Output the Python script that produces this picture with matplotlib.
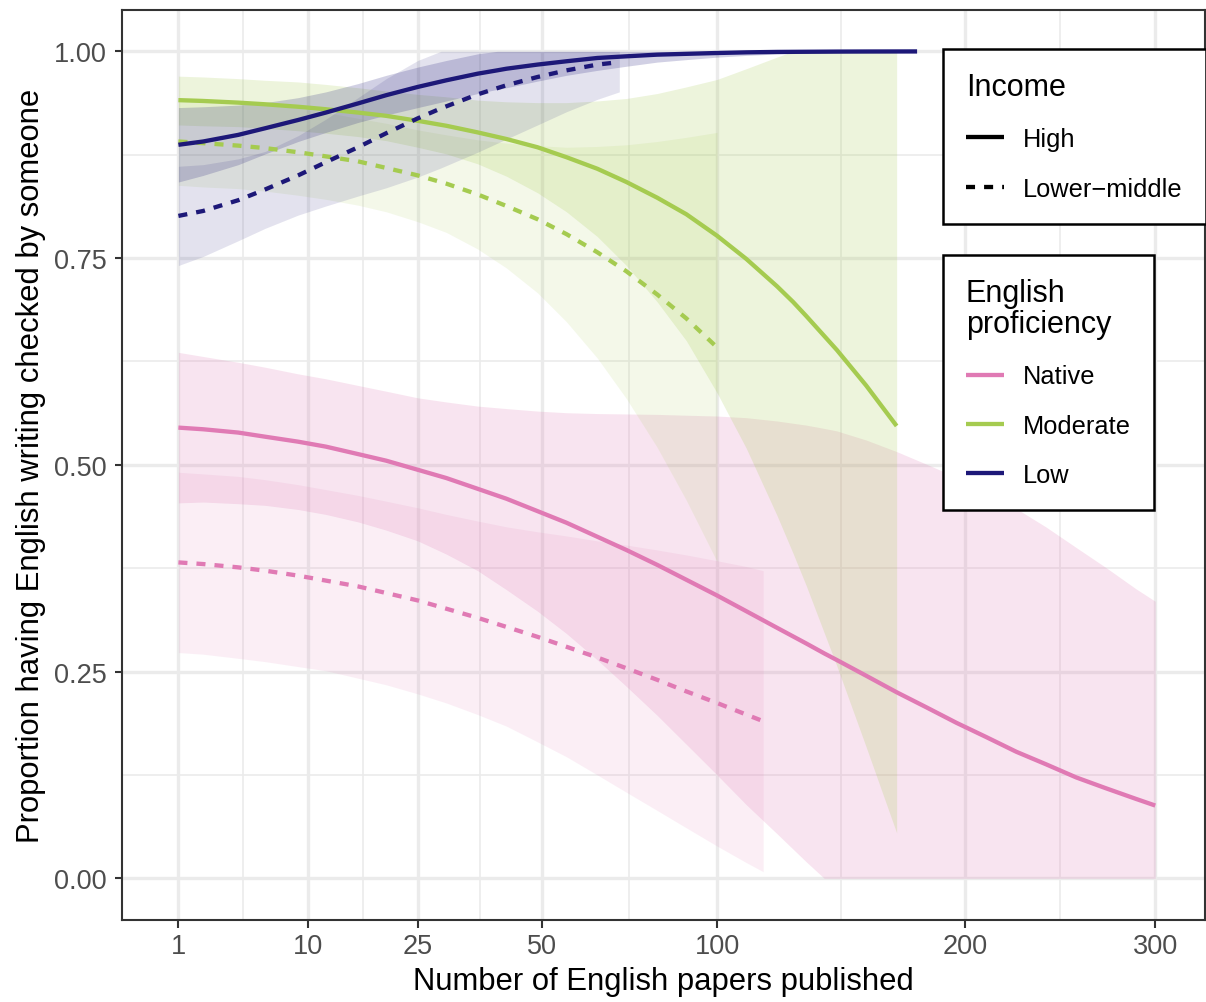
import matplotlib.pyplot as plt
import numpy as np
from matplotlib.lines import Line2D
from matplotlib.ticker import FixedLocator

plt.rcParams['font.family'] = ['Liberation Sans', 'DejaVu Sans']

# Fitted proportion + 95% band, per proficiency x income group
native_high_x = [1, 2, 4, 6, 9, 12, 16, 20, 25, 30, 36, 42, 49, 56, 64, 72, 81, 90, 100, 110,
                 121, 132, 139, 144, 156, 169, 182, 196, 210, 225, 240, 256, 272, 289, 300]
native_high_fit = [0.545, 0.543, 0.539, 0.534, 0.528, 0.522, 0.513, 0.505, 0.494, 0.484,
                   0.471, 0.459, 0.444, 0.430, 0.413, 0.397, 0.379, 0.361, 0.342, 0.323,
                   0.303, 0.284, 0.272, 0.264, 0.245, 0.225, 0.207, 0.188, 0.171, 0.153,
                   0.138, 0.122, 0.109, 0.096, 0.088]
native_high_lo = [0.454, 0.455, 0.453, 0.451, 0.446, 0.440, 0.431, 0.421, 0.408, 0.392,
                  0.372, 0.349, 0.323, 0.296, 0.264, 0.232, 0.197, 0.162, 0.125, 0.089,
                  0.054, 0.020, 0.0, 0.0, 0.0, 0.0, 0.0, 0.0, 0.0, 0.0,
                  0.0, 0.0, 0.0, 0.0, 0.0]
native_high_hi = [0.636, 0.631, 0.624, 0.618, 0.610, 0.604, 0.596, 0.589, 0.581, 0.576,
                  0.571, 0.568, 0.565, 0.563, 0.562, 0.5615, 0.561, 0.560, 0.559, 0.557,
                  0.553, 0.548, 0.544, 0.541, 0.530, 0.516, 0.501, 0.485, 0.467, 0.447,
                  0.425, 0.400, 0.376, 0.350, 0.335]

native_lm_x = [1, 2, 4, 6, 9, 12, 16, 20, 25, 30, 36, 42, 49, 56, 64, 72, 81, 90, 100, 110, 116]
native_lm_fit = [0.382, 0.380, 0.376, 0.372, 0.366, 0.360, 0.353, 0.345, 0.336, 0.326, 0.315,
                 0.304, 0.292, 0.280, 0.267, 0.254, 0.240, 0.226, 0.212, 0.198, 0.190]
native_lm_lo = [0.273, 0.271, 0.266, 0.262, 0.256, 0.251, 0.242, 0.234, 0.223, 0.212, 0.198,
                0.184, 0.165, 0.147, 0.125, 0.104, 0.082, 0.061, 0.039, 0.019, 0.008]
native_lm_hi = [0.491, 0.489, 0.486, 0.482, 0.476, 0.470, 0.463, 0.456, 0.448, 0.440, 0.432,
                0.425, 0.419, 0.414, 0.408, 0.403, 0.397, 0.391, 0.384, 0.377, 0.372]

moderate_high_x = [1, 2, 4, 6, 9, 12, 16, 20, 25, 30, 36, 42, 49, 56, 64, 72, 81, 90, 100, 110,
                   121, 127, 132, 144, 156, 169]
moderate_high_fit = [0.941, 0.940, 0.938, 0.936, 0.933, 0.930, 0.926, 0.922, 0.916, 0.910,
                     0.902, 0.894, 0.884, 0.872, 0.858, 0.842, 0.823, 0.803, 0.777, 0.749,
                     0.716, 0.697, 0.680, 0.639, 0.596, 0.547]
moderate_high_lo = [0.911, 0.910, 0.909, 0.907, 0.904, 0.901, 0.897, 0.892, 0.884, 0.876,
                    0.864, 0.849, 0.829, 0.806, 0.776, 0.741, 0.697, 0.650, 0.587, 0.520,
                    0.439, 0.393, 0.354, 0.257, 0.159, 0.055]
moderate_high_hi = [0.970, 0.969, 0.967, 0.965, 0.963, 0.960, 0.956, 0.952, 0.948, 0.945,
                    0.941, 0.939, 0.938, 0.938, 0.940, 0.943, 0.949, 0.957, 0.966, 0.979,
                    0.993, 1.0, 1.0, 1.0, 1.0, 1.0]

moderate_lm_x = [1, 2, 4, 6, 9, 12, 16, 20, 25, 30, 36, 42, 49, 56, 64, 72, 81, 90, 100]
moderate_lm_fit = [0.891, 0.889, 0.886, 0.883, 0.878, 0.873, 0.867, 0.859, 0.850, 0.840,
                   0.827, 0.813, 0.797, 0.779, 0.757, 0.734, 0.706, 0.677, 0.642]
moderate_lm_lo = [0.838, 0.836, 0.834, 0.831, 0.826, 0.821, 0.814, 0.806, 0.794, 0.781,
                  0.761, 0.738, 0.708, 0.673, 0.629, 0.580, 0.521, 0.457, 0.383]
moderate_lm_hi = [0.944, 0.943, 0.939, 0.936, 0.931, 0.926, 0.919, 0.913, 0.905, 0.899,
                  0.893, 0.889, 0.886, 0.884, 0.885, 0.887, 0.891, 0.896, 0.902]

low_high_x = [1, 2, 4, 6, 9, 12, 16, 20, 25, 30, 36, 40, 42, 49, 56, 64, 72, 81, 90, 100,
              110, 121, 132, 144, 156, 178]
low_high_fit = [0.887, 0.891, 0.899, 0.907, 0.917, 0.926, 0.937, 0.947, 0.957, 0.965,
                0.973, 0.977, 0.979, 0.984, 0.988, 0.992, 0.994, 0.996, 0.997, 0.998,
                0.9988, 0.9993, 0.9995, 0.9997, 0.9998, 0.9999]
low_high_lo = [0.842, 0.850, 0.863, 0.876, 0.891, 0.902, 0.914, 0.923, 0.932, 0.940,
               0.949, 0.954, 0.956, 0.964, 0.971, 0.977, 0.982, 0.987, 0.990, 0.993,
               0.9951, 0.9968, 0.9978, 0.9984, 0.9991, 0.9996]
low_high_hi = [0.932, 0.933, 0.935, 0.938, 0.944, 0.951, 0.961, 0.971, 0.981, 0.989,
               0.997, 1.0, 1.0, 1.0, 1.0, 1.0, 1.0, 1.0, 1.0, 1.0,
               1.0, 1.0, 1.0, 1.0, 1.0, 1.0]

low_lm_x = [1, 2, 4, 6, 9, 12, 16, 20, 25, 29, 36, 42, 49, 56, 64, 70]
low_lm_fit = [0.801, 0.807, 0.820, 0.833, 0.850, 0.866, 0.884, 0.901, 0.919, 0.931,
              0.948, 0.959, 0.969, 0.977, 0.984, 0.987]
low_lm_lo = [0.741, 0.752, 0.771, 0.786, 0.802, 0.813, 0.825, 0.835, 0.848, 0.859,
             0.878, 0.894, 0.911, 0.927, 0.942, 0.951]
low_lm_hi = [0.861, 0.863, 0.870, 0.879, 0.898, 0.918, 0.944, 0.967, 0.989, 1.0,
             1.0, 1.0, 1.0, 1.0, 1.0, 1.0]

proficiency = ['Native', 'Moderate', 'Low']
income = ['High', 'Lower\u2212middle']
x_breaks = [1, 10, 25, 50, 100, 200, 300]
y_breaks = [0.0, 0.25, 0.50, 0.75, 1.0]

PINK = '#E07AB4'
GREEN = '#A5CB50'
NAVY = '#1D1878'
LW = 3.1
DASHED = (0, (2.1, 2.1))

groups = [
    (native_high_x, native_high_fit, native_high_lo, native_high_hi, PINK, 'High'),
    (native_lm_x, native_lm_fit, native_lm_lo, native_lm_hi, PINK, 'Lower-middle'),
    (moderate_high_x, moderate_high_fit, moderate_high_lo, moderate_high_hi, GREEN, 'High'),
    (moderate_lm_x, moderate_lm_fit, moderate_lm_lo, moderate_lm_hi, GREEN, 'Lower-middle'),
    (low_high_x, low_high_fit, low_high_lo, low_high_hi, NAVY, 'High'),
    (low_lm_x, low_lm_fit, low_lm_lo, low_lm_hi, NAVY, 'Lower-middle'),
]

fig = plt.figure(figsize=(12.06, 10.03), dpi=100)
ax = fig.add_axes([0.10075, 0.0821, 0.89801, 0.90693])

# square-root x axis
ax.set_xscale('function', functions=(lambda v: np.sqrt(np.clip(v, 0, None)), lambda v: np.square(v)))
ax.set_xlim(0.00243, 329.2)
ax.set_ylim(-0.05, 1.05)

# bands first, then the fitted lines on top
for x, fit, lo, hi, col, inc in groups:
    a = 0.2 if inc == 'High' else 0.12
    ax.fill_between(x, lo, hi, color=col, alpha=a, lw=0, zorder=2)
for x, fit, lo, hi, col, inc in groups:
    ls = '-' if inc == 'High' else DASHED
    ax.plot(x, fit, color=col, lw=LW, ls=ls, solid_capstyle='butt', dash_capstyle='butt',
            solid_joinstyle='round', zorder=3)

# ticks and grid
ax.xaxis.set_major_locator(FixedLocator(x_breaks))
ax.set_xticklabels([str(b) for b in x_breaks])
sq = np.sqrt(x_breaks)
ax.xaxis.set_minor_locator(FixedLocator(((sq[:-1] + sq[1:]) / 2) ** 2))
ax.yaxis.set_major_locator(FixedLocator(y_breaks))
ax.set_yticklabels([f'{b:.2f}' for b in y_breaks])
ax.yaxis.set_minor_locator(FixedLocator([0.125, 0.375, 0.625, 0.875]))

ax.grid(which='major', color='#EBEBEB', lw=2.4)
ax.grid(which='minor', color='#EBEBEB', lw=1.2)
ax.set_axisbelow(True)

ax.tick_params(which='major', length=5.4, width=1.5, color='#333333',
               labelcolor='#4D4D4D', labelsize=19.5)
ax.tick_params(axis='y', pad=5.4)
ax.tick_params(axis='x', pad=4)
ax.tick_params(which='minor', length=0)
for s in ax.spines.values():
    s.set_color('#333333')
    s.set_linewidth(1.5)

ax.set_xlabel('Number of English papers published', fontsize=22.3, va='center')
ax.xaxis.set_label_coords(0.5, -0.0674)
ax.set_ylabel('Proportion having English writing checked by someone', fontsize=22.3, va='center')
ax.yaxis.set_label_coords(-0.0835, 0.5)

# legends
legend_kw = dict(loc='upper left', bbox_transform=fig.transFigure, frameon=True, fancybox=False,
                 edgecolor='black', framealpha=1, fontsize=18.3, title_fontsize=22,
                 handlelength=1.5, handletextpad=0.75, labelspacing=1.0, borderpad=0.9,
                 borderaxespad=0, alignment='left')

income_handles = [
    Line2D([], [], color='black', lw=LW, solid_capstyle='butt'),
    Line2D([], [], color='black', lw=LW, ls=DASHED, dash_capstyle='butt'),
]
leg1 = ax.legend(income_handles, income, title='Income',
                 bbox_to_anchor=(943 / 1206, 1 - 50 / 1003), **legend_kw)
leg1.get_frame().set_linewidth(1.8)
ax.add_artist(leg1)

prof_handles = [Line2D([], [], color=c, lw=LW, solid_capstyle='butt') for c in (PINK, GREEN, NAVY)]
leg2 = ax.legend(prof_handles, proficiency, title='English\nproficiency',
                 bbox_to_anchor=(943 / 1206, 1 - 256 / 1003), **legend_kw)
leg2.get_frame().set_linewidth(1.8)
leg2.get_title().set_linespacing(1.05)

fig.savefig('out.png', dpi=100)
